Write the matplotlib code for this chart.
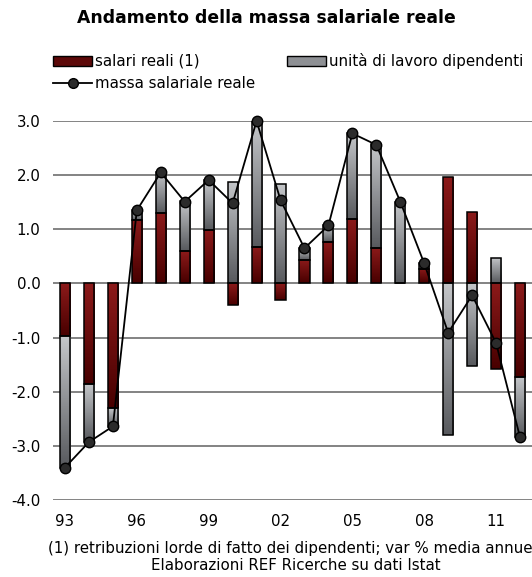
import numpy as np
import matplotlib.pyplot as plt
from matplotlib.patches import Patch
from matplotlib.lines import Line2D
from matplotlib.colors import LinearSegmentedColormap

# dati
anni = list(range(1993, 2013))
salari = [-0.97, -1.85, -2.30, 1.17, 1.31, 0.59, 0.99, -0.39, 0.68, -0.30,
          0.44, 0.76, 1.19, 0.66, 0.00, 0.27, 1.96, 1.32, -1.58, -1.72]
unita = [-2.43, -1.08, -0.35, 0.18, 0.74, 0.93, 0.92, 1.88, 2.32, 1.83,
         0.22, 0.31, 1.58, 1.91, 1.51, 0.10, -2.80, -1.53, 0.47, -1.11]
massa = [-3.40, -2.93, -2.64, 1.35, 2.05, 1.51, 1.91, 1.48, 3.00, 1.54,
         0.65, 1.07, 2.77, 2.56, 1.51, 0.37, -0.91, -0.22, -1.10, -2.84]
tick_lab = ["93", "96", "99", "02", "05", "08", "11"]

plt.rcParams['font.family'] = ['DejaVu Sans']
fs = 10.8

fig = plt.figure(figsize=(5.32, 5.77), dpi=100)
ax = fig.add_axes([53 / 532, 77 / 577, 1 - 53 / 532, 379 / 577])

x = np.arange(len(anni))
sal = np.array(salari)
uni = np.array(unita)

# stacking stile Excel: positivi e negativi separati
base_u = np.where(np.sign(uni) == np.sign(sal), sal, 0.0)

w = 0.42
bars_s = ax.bar(x, sal, w, facecolor='none', edgecolor='black', lw=1.1, zorder=3)
bars_u = ax.bar(x, uni, w, bottom=base_u, facecolor='none', edgecolor='black', lw=1.1, zorder=3)

cm_red = LinearSegmentedColormap.from_list('r', ['#480000', '#8c1a1a'])
cm_gry = LinearSegmentedColormap.from_list('g', ['#585a5e', '#c4c6c9'])
grad = np.linspace(0, 1, 64).reshape(-1, 1)

def riempi(bars, cmap):
    # gradiente verticale: chiaro in alto, scuro in basso
    for b in bars:
        bb = b.get_bbox()
        y0, y1 = min(bb.y0, bb.y1), max(bb.y0, bb.y1)
        if y1 - y0 < 1e-6:
            continue
        im = ax.imshow(grad, cmap=cmap, origin='lower', aspect='auto',
                       extent=[bb.x0, bb.x1, y0, y1], zorder=2)
        im.set_clip_path(b)

riempi(bars_s, cm_red)
riempi(bars_u, cm_gry)

ax.plot(x, massa, color='black', lw=1.3, marker='o', markersize=7.5,
        markerfacecolor='#2b2b2b', markeredgecolor='black', zorder=5, clip_on=False)

ax.set_xlim(-0.5, len(anni) - 0.5)
ax.set_ylim(-4.0, 3.0)
ax.set_yticks(np.arange(-4, 3.1, 1))
ax.set_yticklabels([f"{v:.1f}" for v in np.arange(-4, 3.1, 1)])
ax.set_xticks(x[::3])
ax.set_xticklabels(tick_lab)
ax.tick_params(axis='both', length=0, labelsize=fs, colors='#000000')
ax.tick_params(axis='y', pad=9)
ax.tick_params(axis='x', pad=10)
ax.yaxis.grid(True, color='#7a7a7a', lw=1.3)
ax.set_axisbelow(True)
for s in ax.spines.values():
    s.set_visible(False)

fig.text(0.5, 1 - 18 / 577, "Andamento della massa salariale reale", ha='center', va='center',
         fontsize=12.4, fontweight='bold')

handles = [Patch(facecolor='#5c0808', edgecolor='black', lw=1.0),
           Line2D([], [], color='black', lw=1.3, marker='o', markersize=7,
                  markerfacecolor='#2b2b2b', markeredgecolor='black'),
           Patch(facecolor='#8e9094', edgecolor='black', lw=1.0)]
labels = ["salari reali (1)", "massa salariale reale", "unità di lavoro dipendenti"]
fig.legend(handles, labels, ncol=2, loc='upper left', bbox_to_anchor=(47 / 532, 1 - 47 / 577),
           frameon=False, fontsize=fs, handlelength=2.6, handleheight=0.7, handletextpad=0.2,
           columnspacing=2.1, labelspacing=0.5, borderaxespad=0)

fig.text(48 / 532, 1 - 548 / 577, "(1) retribuzioni lorde di fatto dei dipendenti; var % media annue",
         ha='left', va='center', fontsize=fs)
fig.text(296 / 532, 1 - 566 / 577, "Elaborazioni REF Ricerche su dati Istat",
         ha='center', va='center', fontsize=fs)

fig.savefig("out.png", dpi=100)
